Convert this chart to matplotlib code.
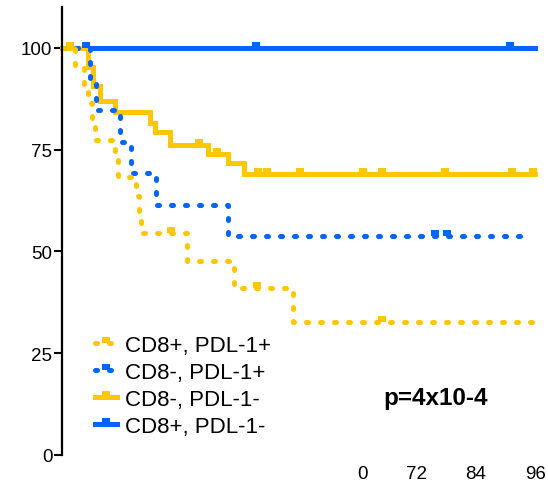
import numpy as np
import matplotlib.pyplot as plt

plt.rcParams['font.family'] = ['Liberation Sans', 'DejaVu Sans']

YELLOW = '#FFC700'
BLUE = '#0064FF'

# survival curves (months, % surviving)
# CD8+, PDL-1+
pp_t = [2.6, 4.5, 5.3, 6.1, 6.7, 10.8, 11.4, 15.0, 15.6, 16.0, 25.4, 34.9, 46.9]
pp_s = [95.5, 91.0, 86.4, 81.8, 77.3, 72.7, 68.2, 63.6, 59.1, 54.5, 47.7, 40.9, 32.7]
pp_cens = [22.1, 39.6, 64.9]
pp_end = 95.3

# CD8-, PDL-1+
mp_t = [5.7, 6.9, 11.8, 14.0, 19.1, 33.7]
mp_s = [92.3, 84.6, 76.9, 69.2, 61.5, 53.8]
mp_cens = [4.9, 75.7, 78.1]
mp_end = 95.3

# CD8-, PDL-1-
mm_t = [5.3, 6.3, 7.7, 10.8, 17.8, 18.9, 21.9, 29.6, 33.7, 36.9]
mm_s = [95.2, 90.6, 86.8, 84.1, 81.6, 79.2, 76.2, 74.0, 71.6, 69.0]
mm_cens = [1.6, 27.8, 31.4, 39.8, 41.6, 48.3, 61.1, 64.9, 77.7, 91.3, 95.5]
mm_end = 95.9

# CD8+, PDL-1-
pm_t = []
pm_s = []
pm_cens = [39.4, 90.9]
pm_end = 96.0

xtick_pos = [61, 72, 84, 96]
xtick_lab = ['0', '72', '84', '96']
ytick_pos = [0, 25, 50, 75, 100]

# censor mark: small block sitting on top of the line
cens_marker = [(-0.7, 0), (-0.7, 1), (0.7, 1), (0.7, 0), (-0.7, 0)]


def km_xy(step_t, step_s, cens_t, end_t):
    t = np.array(sorted(set([0.0] + list(step_t) + list(cens_t) + [end_t])))
    levels = np.array([100.0] + list(step_s))
    idx = np.searchsorted(np.array(step_t, dtype=float), t, side='right')
    s = levels[idx]
    marks = [int(np.where(t == c)[0][0]) for c in cens_t]
    return t, s, marks


fig = plt.figure(figsize=(5.48, 4.85), dpi=100)
ax = fig.add_axes([62 / 548, 29 / 485, 483 / 548, 448 / 485])

lw = 3.6
curves = {}
for key, (st, ss, ct, et, color, dotted, label) in {
    'pm': (pm_t, pm_s, pm_cens, pm_end, BLUE, False, 'CD8+, PDL-1-'),
    'mm': (mm_t, mm_s, mm_cens, mm_end, YELLOW, False, 'CD8-, PDL-1-'),
    'mp': (mp_t, mp_s, mp_cens, mp_end, BLUE, True, 'CD8-, PDL-1+'),
    'pp': (pp_t, pp_s, pp_cens, pp_end, YELLOW, True, 'CD8+, PDL-1+'),
}.items():
    t, s, marks = km_xy(st, ss, ct, et)
    line, = ax.plot(t, s, drawstyle='steps-post', color=color, lw=lw,
                    marker=cens_marker, markevery=marks, markersize=8.5,
                    markeredgewidth=0, markerfacecolor=color,
                    solid_joinstyle='miter', label=label, clip_on=False)
    if dotted:
        line.set_dashes((0.4, 2.4))
        line.set_dash_capstyle('round')
    curves[key] = line

ax.set_xlim(0, 98)
ax.set_ylim(0, 110)
ax.set_yticks(ytick_pos)
ax.set_xticks(xtick_pos)
ax.set_xticklabels(xtick_lab)
for side in ['top', 'right', 'bottom']:
    ax.spines[side].set_visible(False)
ax.spines['left'].set_linewidth(1.6)
ax.tick_params(axis='x', length=0, pad=7, labelsize=13.5)
ax.tick_params(axis='y', length=6, width=1.5, pad=1, labelsize=13.5)

order = ['pp', 'mp', 'mm', 'pm']
ax.legend([curves[k] for k in order], [curves[k].get_label() for k in order],
          loc='upper left', bbox_to_anchor=(95 / 548, 1 - 336 / 485),
          bbox_transform=fig.transFigure, frameon=False, fontsize=16,
          handlelength=1.0, handletextpad=0.36, labelspacing=0.27,
          borderpad=0, borderaxespad=0, numpoints=1)

ax.text(75.9, 14.2, 'p=4x10-4', fontsize=17.5, fontweight='bold',
        ha='center', va='center')

fig.savefig('out.png', dpi=100)
